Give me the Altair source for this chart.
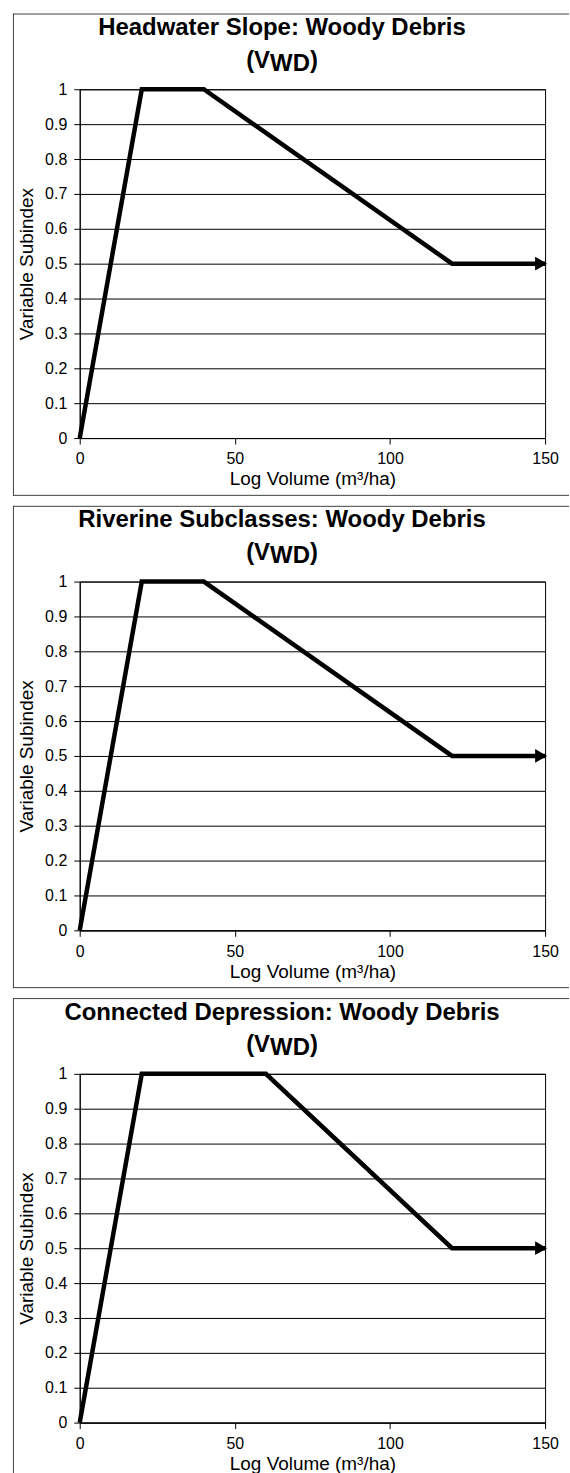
import altair as alt
import pandas as pd

# Panel titles; the second line is the variable code V with subscript WD
panel_titles = [
    "Headwater Slope: Woody Debris",
    "Riverine Subclasses: Woody Debris",
    "Connected Depression: Woody Debris",
]
code_open = "(V"
code_sub = "WD"
code_close = ")"

# Breakpoints of each subindex curve: log volume (m3/ha) -> subindex
volume_headwater = [0, 20, 40, 120, 150]
subindex_headwater = [0, 1, 1, 0.5, 0.5]

volume_riverine = [0, 20, 40, 120, 150]
subindex_riverine = [0, 1, 1, 0.5, 0.5]

volume_depression = [0, 20, 60, 120, 150]
subindex_depression = [0, 1, 1, 0.5, 0.5]

x_ticks = [0, 50, 100, 150]
y_ticks = [0, 0.1, 0.2, 0.3, 0.4, 0.5, 0.6, 0.7, 0.8, 0.9, 1]

x_title = "Log Volume (m³/ha)"
y_title = "Variable Subindex"

FONT = "Liberation Sans"
PLOT_W, PLOT_H = 467, 350
BORDER = "#404040"
TITLE_SIZE = 24
TITLE_CX = 203  # title centre, measured from the plot's left edge


def panel(title, volume, subindex, box_bottom=407.5, draw_bottom=True):
    df = pd.DataFrame({"volume": volume, "subindex": subindex})
    end = pd.DataFrame({"volume": [volume[-1]], "subindex": [subindex[-1]]})

    x = alt.X(
        "volume:Q",
        scale=alt.Scale(domain=[x_ticks[0], x_ticks[-1]], nice=False),
        axis=alt.Axis(values=x_ticks, title=x_title, grid=False,
                      labelPadding=7, titlePadding=3, labelOverlap=False,
                      labelFlush=False),
    )
    y = alt.Y(
        "subindex:Q",
        scale=alt.Scale(domain=[y_ticks[0], y_ticks[-1]], nice=False),
        axis=alt.Axis(values=y_ticks, format=".1~f", title=y_title,
                      grid=True, labelPadding=7, titlePadding=8,
                      labelOverlap=False, labelFlush=False,
                      tickCount=len(y_ticks)),
    )

    line = alt.Chart(df).mark_line(
        color="black", strokeWidth=4.5, strokeJoin="miter"
    ).encode(x=x, y=y)

    arrow = alt.Chart(end).mark_point(
        shape="triangle-right", filled=True, color="black",
        size=190, opacity=1, xOffset=-4,
    ).encode(x=x, y=y)

    one = alt.Chart(pd.DataFrame({"k": [0]}))

    # frame drawn around the whole panel (top, left, bottom edges)
    top = one.mark_rule(color=BORDER, strokeWidth=1).encode(
        x=alt.value(-67), x2=alt.value(491), y=alt.value(-75.5))
    left = one.mark_rule(color=BORDER, strokeWidth=1).encode(
        x=alt.value(-66.5), y=alt.value(-76), y2=alt.value(box_bottom + 0.5))
    layers = [top, left]
    if draw_bottom:
        bottom = one.mark_rule(color=BORDER, strokeWidth=1).encode(
            x=alt.value(-67), x2=alt.value(491), y=alt.value(box_bottom))
        layers.append(bottom)

    # two-line panel heading drawn inside the frame
    head = dict(font=FONT, fontSize=TITLE_SIZE, fontWeight="bold",
                color="black", baseline="middle")
    line1 = one.mark_text(align="center", **head).encode(
        x=alt.value(TITLE_CX), y=alt.value(-61.5), text=alt.value(title))
    # widths of "(V", "WD" and ")" in em units of the bold face
    w_open, w_sub, w_close = 1.0 * TITLE_SIZE, 1.666 * TITLE_SIZE, 0.333 * TITLE_SIZE
    start = TITLE_CX - (w_open + w_sub + w_close) / 2
    code1 = one.mark_text(align="right", **head).encode(
        x=alt.value(start + w_open), y=alt.value(-28.5), text=alt.value(code_open))
    code2 = one.mark_text(align="left", **head).encode(
        x=alt.value(start + w_open), y=alt.value(-25.5), text=alt.value(code_sub))
    code3 = one.mark_text(align="left", **head).encode(
        x=alt.value(start + w_open + w_sub), y=alt.value(-28.5), text=alt.value(code_close))

    return alt.layer(line, arrow, *layers, line1, code1, code2, code3).properties(
        width=PLOT_W,
        height=PLOT_H,
    )


chart = alt.vconcat(
    panel(panel_titles[0], volume_headwater, subindex_headwater),
    panel(panel_titles[1], volume_riverine, subindex_riverine),
    panel(panel_titles[2], volume_depression, subindex_depression,
          box_bottom=402.5, draw_bottom=False),
    spacing=8,
).properties(
    padding={"left": 12, "top": 10, "right": 0, "bottom": 0},
    background="white",
).configure_view(
    stroke="black", strokeWidth=1
).configure_axis(
    labelFont=FONT, labelFontSize=16, labelColor="black",
    titleFont=FONT, titleFontSize=19, titleFontWeight="normal", titleColor="black",
    tickColor="black", tickSize=6, tickWidth=1,
    domainColor="black", domainWidth=1,
    gridColor="black", gridWidth=1,
)

chart.save("out.html", embed_options={"renderer": "svg", "actions": False})
